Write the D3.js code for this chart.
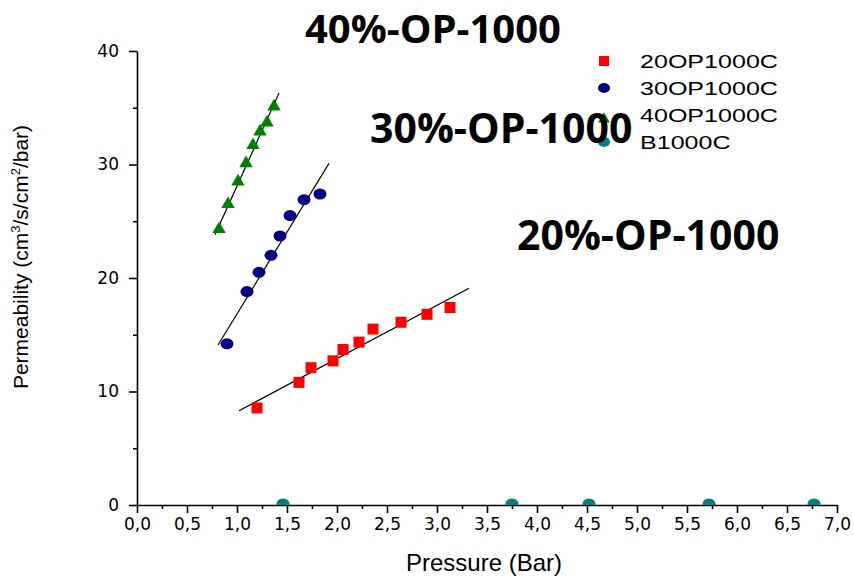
<!DOCTYPE html>
<html>
<head>
<meta charset="utf-8">
<script src="https://cdn.jsdelivr.net/npm/d3@7"></script>
<style>
  body { margin: 0; background: #fff; }
  svg { display: block; }
  .axis path, .axis line { stroke: #000; stroke-width: 1.6px; }
  .axis text { font-family: "DejaVu Sans", sans-serif; font-size: 17px; fill: #000; }
</style>
</head>
<body>
<div id="chart"></div>
<script>
// Data
const seriesNames = ["20OP1000C", "30OP1000C", "40OP1000C", "B1000C"];

const p20 = [1.20, 1.62, 1.74, 1.96, 2.06, 2.22, 2.36, 2.64, 2.90, 3.13];
const k20 = [8.55, 10.8, 12.1, 12.7, 13.7, 14.35, 15.5, 16.1, 16.8, 17.4];

const p30 = [0.90, 1.10, 1.22, 1.34, 1.43, 1.53, 1.67, 1.83];
const k30 = [14.2, 18.8, 20.5, 22.0, 23.7, 25.5, 26.9, 27.4];

const p40 = [0.82, 0.91, 1.01, 1.09, 1.16, 1.23, 1.30, 1.37];
const k40 = [24.3, 26.5, 28.5, 30.1, 31.7, 32.9, 33.7, 35.1];

const pB = [1.46, 3.75, 4.52, 5.72, 6.77];
const kB = [0, 0, 0, 0, 0];

// linear fit end points
const fit20 = [[1.02, 8.3], [3.32, 19.1]];
const fit30 = [[0.81, 14.1], [1.92, 30.1]];
const fit40 = [[0.78, 23.8], [1.42, 36.3]];

const xTicks = [0, 0.5, 1, 1.5, 2, 2.5, 3, 3.5, 4, 4.5, 5, 5.5, 6, 6.5, 7];
const xMinor = [0.25, 0.75, 1.25, 1.75, 2.25, 2.75, 3.25, 3.75, 4.25, 4.75, 5.25, 5.75, 6.25, 6.75];
const yTicks = [0, 10, 20, 30, 40];
const yMinor = [5, 15, 25, 35];

const annotations = ["40%-OP-1000", "30%-OP-1000", "20%-OP-1000"];

const colors = { "20OP1000C": "#ff0000", "30OP1000C": "#000080", "40OP1000C": "#008000", "B1000C": "#008080" };

const width = 854, height = 576;
const margin = { top: 51, right: 17, bottom: 71, left: 137 };
const w = width - margin.left - margin.right;
const h = height - margin.top - margin.bottom;

const svg = d3.select("#chart").append("svg")
    .attr("width", width)
    .attr("height", height);

const g = svg.append("g").attr("transform", `translate(${margin.left},${margin.top})`);

const x = d3.scaleLinear().domain([0, 7]).range([0, 700]);
const y = d3.scaleLinear().domain([0, 40]).range([h, 0]);

const comma = d => d3.format(".1f")(d).replace(".", ",");

// clip for plot area
svg.append("defs").append("clipPath").attr("id", "plotClip")
  .append("rect").attr("x", 0).attr("y", -20).attr("width", 720).attr("height", h + 20);

// minor ticks
g.append("g").attr("class", "axis")
  .attr("transform", `translate(0,${h})`)
  .call(d3.axisBottom(x).tickValues(xMinor).tickSize(4).tickSizeOuter(0).tickFormat(""))
  .call(a => a.select(".domain").remove());
g.append("g").attr("class", "axis")
  .call(d3.axisLeft(y).tickValues(yMinor).tickSize(4).tickSizeOuter(0).tickFormat(""))
  .call(a => a.select(".domain").remove());

// major axes
g.append("g").attr("class", "axis")
  .attr("transform", `translate(0,${h})`)
  .call(d3.axisBottom(x).tickValues(xTicks).tickSize(8).tickSizeOuter(0).tickPadding(5).tickFormat(comma));
g.append("g").attr("class", "axis")
  .call(d3.axisLeft(y).tickValues(yTicks).tickSize(8).tickSizeOuter(0).tickPadding(10));

// axis titles
svg.append("text")
  .attr("x", 484).attr("y", 571)
  .attr("text-anchor", "middle")
  .style("font-family", "Liberation Sans, Arial, sans-serif")
  .style("font-size", "24px")
  .text("Pressure (Bar)");

const yTitle = svg.append("text")
  .attr("transform", "translate(28,257) rotate(-90)")
  .attr("text-anchor", "middle")
  .style("font-family", "Liberation Sans, Arial, sans-serif")
  .style("font-size", "21px");
yTitle.append("tspan").text("Permeability (cm");
yTitle.append("tspan").attr("dy", -8).style("font-size", "13px").text("3");
yTitle.append("tspan").attr("dy", 8).text("/s/cm");
yTitle.append("tspan").attr("dy", -8).style("font-size", "13px").text("2");
yTitle.append("tspan").attr("dy", 8).text("/bar)");

// fit lines
const line = d3.line().x(d => x(d[0])).y(d => y(d[1]));
[fit20, fit30, fit40].forEach(f => {
  g.append("path").attr("d", line(f))
    .attr("fill", "none").attr("stroke", "#000").attr("stroke-width", 1.2);
});

const plot = g.append("g").attr("clip-path", "url(#plotClip)");

// 20% squares
plot.selectAll(".sq").data(p20).enter().append("rect")
  .attr("x", d => x(d) - 5.5)
  .attr("y", (d, i) => y(k20[i]) - 5.5)
  .attr("width", 11).attr("height", 11)
  .attr("fill", colors["20OP1000C"]);

// 30% circles
plot.selectAll(".ci").data(p30).enter().append("ellipse")
  .attr("cx", d => x(d))
  .attr("cy", (d, i) => y(k30[i]))
  .attr("rx", 6.5).attr("ry", 5.5)
  .attr("fill", colors["30OP1000C"]);

// 40% triangles
const tri = d3.symbol().type(d3.symbolTriangle).size(78);
plot.selectAll(".tr").data(p40).enter().append("path")
  .attr("d", tri)
  .attr("transform", (d, i) => `translate(${x(d)},${y(k40[i])})`)
  .attr("fill", colors["40OP1000C"]);

// B1000C circles on the axis
plot.selectAll(".bc").data(pB).enter().append("ellipse")
  .attr("cx", d => x(d))
  .attr("cy", (d, i) => y(kB[i]) - 1)
  .attr("rx", 6.5).attr("ry", 5.5)
  .attr("fill", colors["B1000C"]);

// legend
const legend = svg.append("g").attr("transform", "translate(604,61)");
seriesNames.forEach((name, i) => {
  const row = legend.append("g").attr("transform", `translate(0,${i * 27})`);
  if (i === 0) {
    row.append("rect").attr("x", -5).attr("y", -5).attr("width", 10).attr("height", 10).attr("fill", colors[name]);
  } else if (i === 2) {
    row.append("path").attr("d", d3.symbol().type(d3.symbolTriangle).size(60))
      .attr("transform", "translate(0,4)").attr("fill", colors[name]);
  } else {
    row.append("ellipse").attr("rx", 6).attr("ry", 5).attr("fill", colors[name]);
  }
  row.append("text")
    .attr("transform", "translate(36,7) scale(1.32,1)")
    .style("font-family", "Liberation Sans, Arial, sans-serif")
    .style("font-size", "19px")
    .text(name);
});

// big annotations
const annPos = [[305, 43], [370, 143], [517, 250]];
const annSize = [40, 41, 41];
annotations.forEach((t, i) => {
  svg.append("text")
    .attr("x", annPos[i][0]).attr("y", annPos[i][1])
    .style("font-family", "Open Sans, sans-serif")
    .style("font-weight", "bold")
    .style("font-size", annSize[i] + "px")
    .text(t);
});
</script>
</body>
</html>
